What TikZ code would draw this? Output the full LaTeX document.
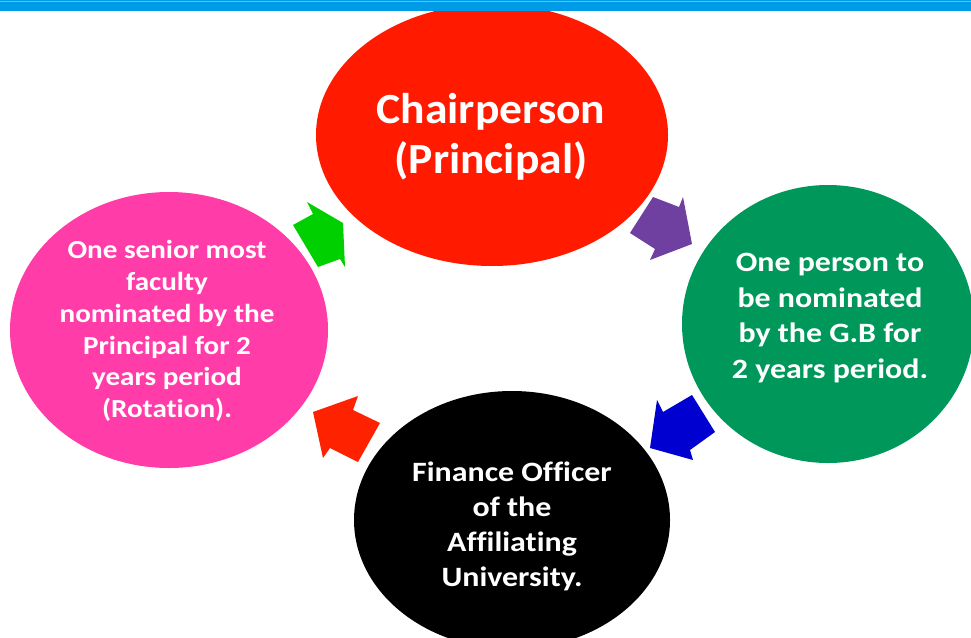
\documentclass[tikz,border=0pt]{standalone}
\usepackage{fontspec}
\setmainfont{Carlito}[Ligatures=NoCommon]
\newfontfamily\stretchA[FakeStretch=1.06,Ligatures=NoCommon]{Carlito}
\newfontfamily\stretchB[FakeStretch=1.12,Ligatures=NoCommon]{Carlito}
\newfontfamily\stretchC[FakeStretch=1.14,Ligatures=NoCommon]{Carlito}
\usetikzlibrary{shapes.geometric}
\definecolor{barblue}{HTML}{009BE6}
\definecolor{barlight}{HTML}{5CC4F2}
\definecolor{cred}{HTML}{FF1A00}
\definecolor{cpink}{HTML}{FF3CA8}
\definecolor{cgreen}{HTML}{00985A}
\definecolor{aGreen}{HTML}{00D000}
\definecolor{aPurple}{HTML}{7040A0}
\definecolor{aBlue}{HTML}{0000D0}
\definecolor{aRed}{HTML}{FF2200}
\tikzset{
  blob/.style={ellipse, inner sep=0pt, outer sep=0pt},
  lbl/.style={text=white, align=center, inner sep=0pt},
  blockarrow/.style={draw=none},
}
\begin{document}
\begin{tikzpicture}[x=1pt, y=-1pt]
\useasboundingbox (0,0) rectangle (971,637);
\begin{scope}
\clip (0,0) rectangle (971,637);
% circles
\node[blob, fill=cred, minimum width=352pt, minimum height=262pt] (chair) at (492,135) {};
\node[blob, fill=cgreen, minimum width=292pt, minimum height=278pt] (gb) at (828,324) {};
\node[blob, fill=black, minimum width=316pt, minimum height=258pt] (fin) at (512,520) {};
\node[blob, fill=cpink, minimum width=318pt, minimum height=276pt] (fac) at (169,330) {};
% labels
\node[lbl, font=\stretchA\bfseries\fontsize{43}{50}\selectfont] (chairtxt) at (491,137) {Chairperson\\(Principal)};
\node[lbl, font=\stretchC\bfseries\fontsize{28}{35.7}\selectfont] (gbtxt) at (830,318) {One person to\\be nominated\\by the G.B for\\2 years period.};
\node[lbl, font=\stretchC\bfseries\fontsize{28}{35}\selectfont] (fintxt) at (512,526) {Finance Officer\\of the\\Affiliating\\University.};
\node[lbl, font=\stretchB\bfseries\fontsize{26}{31.7}\selectfont] (factxt) at (167,331) {One senior most\\faculty\\nominated by the\\Principal for 2\\years period\\(Rotation).};
% block arrows
\fill[aGreen, blockarrow] (293,225) -- (313,214) -- (307,202) -- (343,223) -- (345,267) -- (340,259) -- (318,267) -- cycle;
\fill[aPurple, blockarrow] (653,197) -- (679,207) -- (683,197) -- (692,244) -- (650,260) -- (655,249) -- (630,233) -- cycle;
\fill[aBlue, blockarrow] (692,395) -- (715,432) -- (690,450) -- (693,460) -- (650,448) -- (657,400) -- (663,412) -- cycle;
\fill[aRed, blockarrow] (313,412) -- (358,396) -- (353,410) -- (380,423) -- (358,462) -- (330,448) -- (323,458) -- cycle;
% top bar
\fill[barblue] (0,0) rectangle (971,11);
\fill[barlight] (0,0.5) rectangle (971,2);
\end{scope}
\end{tikzpicture}
\end{document}
